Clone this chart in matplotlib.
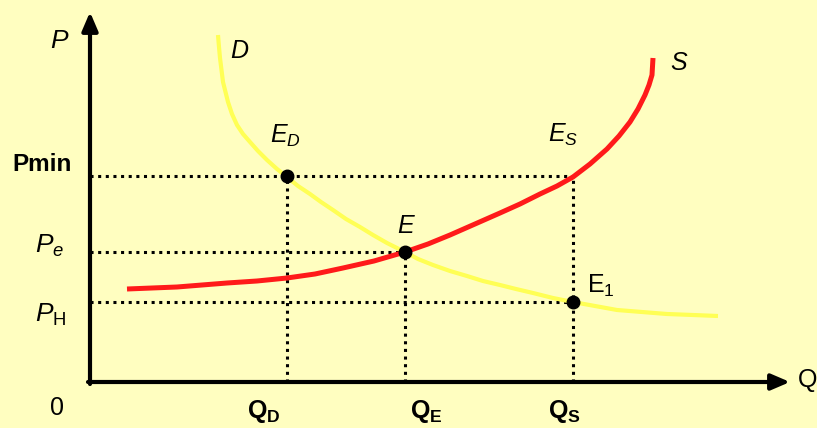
import matplotlib
matplotlib.use("Agg")
import matplotlib.pyplot as plt

plt.rcParams['font.family'] = ['Liberation Sans', 'DejaVu Sans']
plt.rcParams['mathtext.fontset'] = 'custom'
plt.rcParams['mathtext.rm'] = 'Liberation Sans'
plt.rcParams['mathtext.it'] = 'Liberation Sans:italic'
plt.rcParams['mathtext.bf'] = 'Liberation Sans:bold'

# Demand curve (Q, P)
demand_q = [128, 129, 130, 131.5, 133, 135.5, 138, 142, 147, 153, 160, 168, 177, 187, 197, 208, 220, 231,
            243, 256, 270, 283, 297, 315, 328, 343, 360, 377, 393, 410, 426, 443, 463, 483, 505, 527, 552, 577, 603, 628]
demand_p = [347, 335, 324, 312, 300, 290, 280, 268, 257, 248, 240, 231, 222, 213, 205, 196, 188, 180,
            172, 163, 155, 147, 139, 130, 123, 117, 111, 106, 101, 97, 93, 89, 84, 80, 76, 72, 70, 68, 67, 66]
# Supply curve
supply_q = [37, 62, 87, 112, 137, 167, 197, 225, 253, 284, 315, 338, 360, 385, 410, 430, 450, 467, 483,
            500, 517, 529, 540, 548, 555, 559, 562, 563]
supply_p = [93, 94, 95, 97, 99, 101, 104, 108, 114, 121, 130, 138, 147, 158, 169, 178, 188, 196, 205,
            218, 233, 246, 260, 273, 287, 297, 307, 324]

# Key levels
p_min, p_e, p_h = 206, 130, 80
q_d, q_e, q_s = 197, 315, 483

BG = '#FFFEC0'
fig = plt.figure(figsize=(8.17, 4.28), dpi=100, facecolor=BG)
ax = fig.add_axes([0, 0, 1, 1], facecolor=BG)
ax.set_xlim(-90, 727)
ax.set_ylim(-46, 382)
ax.axis('off')

dot = dict(color='black', lw=2.2, linestyle=(0, (1, 1.5)), zorder=2)
ax.plot([0, q_s], [p_min, p_min], **dot)
ax.plot([0, q_e], [p_e, p_e], **dot)
ax.plot([0, q_s], [p_h, p_h], **dot)
ax.plot([q_d, q_d], [0, p_min], **dot)
ax.plot([q_e, q_e], [0, p_e], **dot)
ax.plot([q_s, q_s], [0, p_min], **dot)

ax.plot(demand_q, demand_p, color='#FFFF55', lw=3, solid_capstyle='butt',
        solid_joinstyle='round', zorder=3)
ax.plot(supply_q, supply_p, color='#FF1A1A', lw=3.6, solid_capstyle='butt',
        solid_joinstyle='round', zorder=4)

ax.plot([q_d, q_e, q_s], [p_min, p_e, p_h], 'o', color='black', ms=9, zorder=5)

# axes with arrows
arr = dict(arrowstyle='-|>,head_length=0.7,head_width=0.3', lw=3, color='black',
           mutation_scale=16, shrinkA=0, shrinkB=0)
ax.annotate('', xy=(0, 370), xytext=(0, -2), arrowprops=arr, zorder=6)
ax.annotate('', xy=(700, 0), xytext=(-2, 0), arrowprops=arr, zorder=6)

fs = 18
ax.text(-40, 334, 'P', fontsize=19, style='italic', va='baseline', ha='left')
ax.text(140, 324, 'D', fontsize=fs, style='italic', va='baseline', ha='left')
ax.text(580, 312, 'S', fontsize=fs, style='italic', va='baseline', ha='left')
ax.text(-78, 206, 'Pmin', fontsize=17.5, fontweight='bold', va='bottom', ha='left')
ax.text(-55, 129, r'$P_e$', fontsize=19, va='baseline', ha='left')
ax.text(-55, 60, r'$P_{\mathrm{H}}$', fontsize=19, va='baseline', ha='left')
ax.text(-33, -33, '0', fontsize=fs, va='baseline', ha='center')
ax.text(157, -36, r'$\mathbf{Q}_{\mathbf{D}}$', fontsize=fs, va='baseline', ha='left')
ax.text(320, -36, r'$\mathbf{Q}_{\mathbf{E}}$', fontsize=fs, va='baseline', ha='left')
ax.text(458, -36, r'$\mathbf{Q}_{\mathbf{S}}$', fontsize=fs, va='baseline', ha='left')
ax.text(708, 2, 'Q', fontsize=fs, va='center', ha='left')
ax.text(180, 239, r'$E_D$', fontsize=fs, va='baseline', ha='left')
ax.text(307, 149, r'$E$', fontsize=fs, va='baseline', ha='left')
ax.text(458, 240, r'$E_S$', fontsize=fs, va='baseline', ha='left')
ax.text(497, 89, r'$\mathrm{E}_{\mathrm{1}}$', fontsize=fs, va='baseline', ha='left')

fig.savefig('out.png', dpi=100, facecolor=BG)
